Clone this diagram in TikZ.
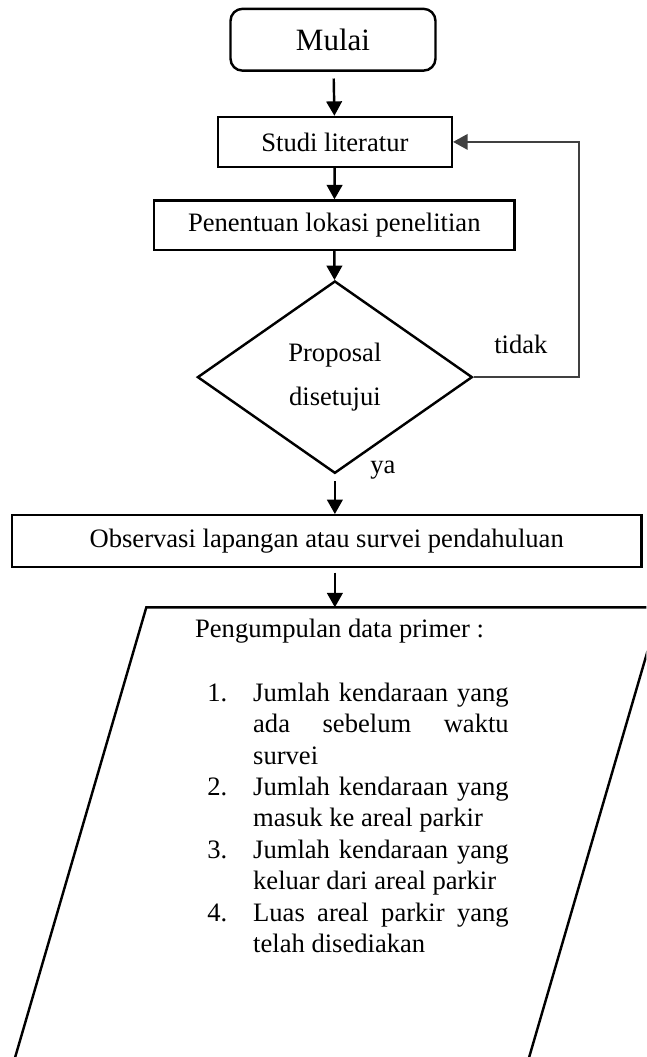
\documentclass[tikz,border=0pt]{standalone}
\usepackage{fontspec}
\setmainfont{Liberation Serif}
\usepackage{enumitem}
\usetikzlibrary{arrows.meta,shapes,positioning}
\tikzstyle{arrow} = [line width=1.1pt,-{Triangle[length=6.5pt,width=7pt]}]
\tikzstyle{backarrow} = [line width=0.6pt,color=black!75,-{Triangle[length=6.5pt,width=7pt]}]
\tikzstyle{process} = [rectangle, draw, line width=1.1pt]

\begin{document}
\begin{tikzpicture}[font=\fontsize{12}{14.2}\selectfont]
    \useasboundingbox (0,0) rectangle (10.25,-16.76);
    \clip (0,0) rectangle (10.25,-16.76);

    \node[rectangle, draw, line width=1.1pt, rounded corners=0.19cm, minimum width=3.25cm, minimum height=0.98cm, font=\fontsize{14}{17}\selectfont] (mulai) at (5.28,-0.63) {Mulai};
    \node[process, minimum width=3.71cm, minimum height=0.79cm] (studi) at (5.31,-2.25) {Studi literatur};
    \node[process, minimum width=5.71cm, minimum height=0.78cm] (lokasi) at (5.30,-3.57) {Penentuan lokasi penelitian};
    \node[diamond, draw, line width=1.1pt, minimum width=4.36cm, minimum height=3.05cm, inner sep=0pt, align=center] (setuju) at (5.31,-5.98) {Proposal\\[6pt]disetujui};
    \node (tidak) at (8.26,-5.46) {tidak};
    \node (ya) at (6.07,-7.45) {ya};
    \coordinate (back) at (9.18,-5.84);
    \node[process, minimum width=9.98cm, minimum height=0.82cm] (observasi) at (5.18,-8.58) {Observasi lapangan atau survei pendahuluan};

    % data input
    \draw[line width=1.1pt] (2.32,-9.63) -- (10.47,-9.63) -- (8.19,-17.45) -- (0.04,-17.45) -- cycle;
    \coordinate (datatop) at (5.31,-9.63);
    \node[anchor=west] (judul) at (2.97,-10.01) {Pengumpulan data primer :};
    \node[anchor=north west, inner sep=0pt, text width=4.78cm, align=justify] (daftar) at (3.28,-10.61) {%
        \hyphenpenalty=10000 \tolerance=9999
        \begin{enumerate}[label=\arabic*., nosep, leftmargin=20.7pt, labelindent=0pt, labelwidth=14pt, labelsep=6.7pt, align=left]
            \item Jumlah kendaraan yang ada sebelum waktu\linebreak survei
            \item Jumlah kendaraan yang masuk ke areal parkir
            \item Jumlah kendaraan yang keluar dari areal parkir
            \item Luas areal parkir yang\linebreak telah disediakan
        \end{enumerate}};

    \draw[arrow, shorten <=3pt] (mulai) -- (studi);
    \draw[arrow] (studi) -- (lokasi);
    \draw[arrow] (lokasi) -- (setuju);
    \draw[arrow, shorten <=3pt] (setuju.south) -- (setuju.south |- observasi.north);
    \draw[arrow, shorten <=2pt] (observasi.south -| datatop) -- (datatop);
    \draw[backarrow] (setuju.east) -- (setuju.east -| back) |- (studi.east);
\end{tikzpicture}
\end{document}
